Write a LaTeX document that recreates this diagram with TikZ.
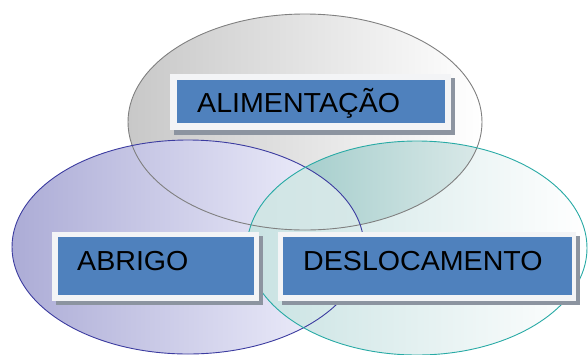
\documentclass[tikz,border=0pt]{standalone}
\usepackage{fontspec}
\setmainfont{Liberation Sans}
\definecolor{boxblue}{RGB}{79,129,189}
\definecolor{framecol}{RGB}{243,244,246}
\definecolor{shadowcol}{RGB}{140,148,160}
\definecolor{grayline}{RGB}{128,128,128}
\definecolor{blueline}{RGB}{60,60,160}
\definecolor{tealline}{RGB}{40,170,165}
\definecolor{grayfill}{RGB}{200,200,200}
\definecolor{bluefill}{RGB}{172,172,214}
\definecolor{tealfill}{RGB}{200,226,226}
\definecolor{tealdark}{RGB}{150,198,196}
\definecolor{triplea}{RGB}{196,222,222}
\definecolor{tripleb}{RGB}{214,232,232}
\tikzset{
  lbl/.style={font=\fontsize{27.5}{30}\selectfont, text=black, anchor=base west, inner sep=0pt},
}
\newcommand{\wide}[1]{\scalebox{1.04}[1]{#1}}
\begin{document}
\begin{tikzpicture}[x=1pt,y=-1pt]
\useasboundingbox (0,0) rectangle (588,354);
% ellipse fills
\shade[left color=grayfill, right color=white] (305,122) ellipse [x radius=177, y radius=108];
\shade[left color=bluefill, right color=white!96!blue] (188,247) ellipse [x radius=176, y radius=107];
\shade[left color=tealfill, right color=white] (417,248) ellipse [x radius=170, y radius=107];
\begin{scope}
  \clip (305,122) ellipse [x radius=177, y radius=108];
  \shade[left color=tealdark, right color=white!95!gray] (417,248) ellipse [x radius=170, y radius=107];
\end{scope}
\begin{scope}
  \clip (305,122) ellipse [x radius=177, y radius=108];
  \clip (417,248) ellipse [x radius=170, y radius=107];
  \shade[left color=triplea, right color=tripleb] (188,247) ellipse [x radius=176, y radius=107];
\end{scope}
% outlines
\draw[grayline, line width=0.9pt] (305,122) ellipse [x radius=177, y radius=108];
\draw[blueline, line width=0.9pt] (188,247) ellipse [x radius=176, y radius=107];
\draw[tealline, line width=0.9pt] (417,248) ellipse [x radius=170, y radius=107];
% boxes
\fill[shadowcol] (174,78) rectangle (455,135);
\fill[framecol] (170,74) rectangle (451,130);
\fill[boxblue] (177,80) rectangle (445,123);
\node[lbl] (ali) at (197,112) {\wide{ALIMENTAÇÃO}};

\fill[shadowcol] (56,236) rectangle (263,305);
\fill[framecol] (52,232) rectangle (259,301);
\fill[boxblue] (58,237) rectangle (254,295);
\node[lbl] (abr) at (77,270) {\wide{ABRIGO}};

\fill[shadowcol] (282,236) rectangle (580,305);
\fill[framecol] (278,232) rectangle (576,301);
\fill[boxblue] (283,237) rectangle (572,295);
\node[lbl] (des) at (303,270) {\wide{DESLOCAMENTO}};
\end{tikzpicture}
\end{document}
